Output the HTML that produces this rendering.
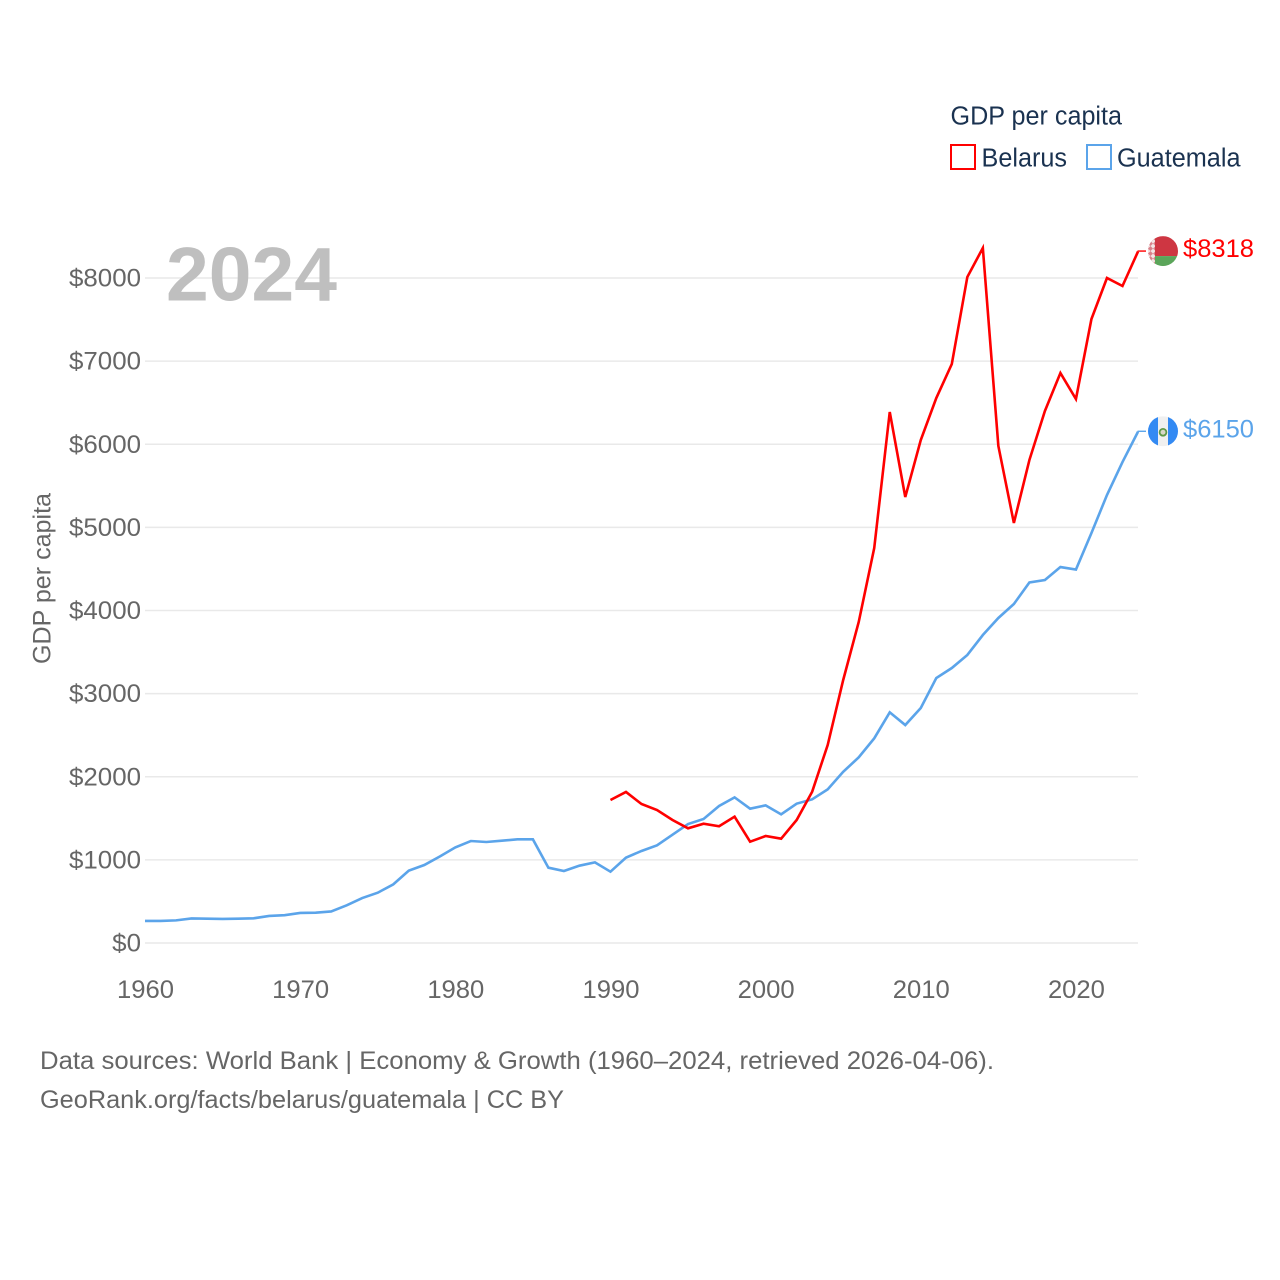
<!DOCTYPE html>
<html lang="en">
<head>
<meta charset="utf-8">
<title>GDP per capita: Belarus and Guatemala</title>
<style>
  html, body { margin: 0; padding: 0; background: #fff; }
  svg { display: block; }
  text { font-family: "Liberation Sans", sans-serif; }
</style>
</head>
<body>
<svg id="chart" xmlns="http://www.w3.org/2000/svg" width="1280" height="1280" viewBox="0 0 1280 1280">
  <rect width="1280" height="1280" fill="#fff"/>
  <g id="grid"></g>
  <g id="yticks"></g>
  <g id="xticks"></g>
  <text x="166" y="300.5" font-size="76" font-weight="700" fill="#bfbfbf" textLength="171" lengthAdjust="spacingAndGlyphs">2024</text>
  <text transform="translate(50.5,664) rotate(-90)" font-size="25" fill="#666" textLength="171" lengthAdjust="spacingAndGlyphs">GDP per capita</text>
  <g id="series"></g>

  <g>
    <text x="950.5" y="124.5" font-size="25.5" fill="#1a3250" textLength="171.5" lengthAdjust="spacingAndGlyphs">GDP per capita</text>
    <rect x="951" y="145" width="24" height="24" fill="#fff" stroke="#ff0000" stroke-width="2"/>
    <text x="981.5" y="166.5" font-size="25.5" fill="#1a3250" textLength="85.5" lengthAdjust="spacingAndGlyphs">Belarus</text>
    <rect x="1087" y="145" width="24" height="24" fill="#fff" stroke="#5ba4ea" stroke-width="2"/>
    <text x="1117" y="166.5" font-size="25.5" fill="#1a3250" textLength="123.5" lengthAdjust="spacingAndGlyphs">Guatemala</text>
  </g>

  <defs>
    <clipPath id="flag-clip"><circle cx="0" cy="0" r="15"/></clipPath>
    <pattern id="ornament" width="5" height="5" patternUnits="userSpaceOnUse">
      <rect width="5" height="5" fill="#f3e6e6"/>
      <path d="M0 2.5 L2.5 0 L5 2.5 L2.5 5 Z" fill="#d9808a"/>
    </pattern>
  </defs>

  <g id="flag-belarus" clip-path="url(#flag-clip)">
    <rect x="-15" y="-15" width="30" height="20" fill="#ce3642"/>
    <rect x="-15" y="5" width="30" height="10" fill="#5ba55a"/>
    <rect x="-15" y="-15" width="7" height="30" fill="url(#ornament)"/>
  </g>
  <g id="flag-guatemala" clip-path="url(#flag-clip)">
    <rect x="-15" y="-15" width="30" height="30" fill="#f0f0f0"/>
    <rect x="-15" y="-15" width="10" height="30" fill="#338af3"/>
    <rect x="5" y="-15" width="10" height="30" fill="#338af3"/>
    <circle cx="0" cy="1" r="3.4" fill="#d8d8c8" stroke="#5f9a48" stroke-width="1.8"/>
  </g>

  <g>
    <text x="40" y="1069" font-size="25" fill="#666" textLength="954" lengthAdjust="spacingAndGlyphs">Data sources: World Bank | Economy &amp; Growth (1960–2024, retrieved 2026-04-06).</text>
    <text x="40" y="1108" font-size="25" fill="#666" textLength="524" lengthAdjust="spacingAndGlyphs">GeoRank.org/facts/belarus/guatemala | CC BY</text>
  </g>
</svg>

<script>
const years = [1960,1961,1962,1963,1964,1965,1966,1967,1968,1969,1970,1971,1972,1973,1974,1975,1976,1977,1978,1979,1980,1981,1982,1983,1984,1985,1986,1987,1988,1989,1990,1991,1992,1993,1994,1995,1996,1997,1998,1999,2000,2001,2002,2003,2004,2005,2006,2007,2008,2009,2010,2011,2012,2013,2014,2015,2016,2017,2018,2019,2020,2021,2022,2023,2024];
const guatemalaValues = [265,266,272,295,293,290,292,297,325,335,362,365,380,453,541,605,705,870,938,1040,1150,1227,1215,1231,1247,1247,906,866,930,970,858,1027,1107,1175,1303,1431,1492,1648,1752,1616,1656,1548,1676,1728,1848,2060,2233,2462,2775,2622,2827,3188,3308,3465,3705,3910,4078,4337,4367,4523,4493,4932,5389,5786,6150];
const belarusValues = [null,null,null,null,null,null,null,null,null,null,null,null,null,null,null,null,null,null,null,null,null,null,null,null,null,null,null,null,null,null,1720,1817,1672,1600,1480,1380,1435,1404,1520,1219,1287,1255,1480,1820,2382,3164,3862,4752,6388,5365,6051,6556,6965,8012,8361,5979,5053,5810,6400,6857,6544,7507,8000,7904,8318];
const yTickValues = [0,1000,2000,3000,4000,5000,6000,7000,8000];
const yTickLabels = ["$0","$1000","$2000","$3000","$4000","$5000","$6000","$7000","$8000"];
const xTickValues = [1960,1970,1980,1990,2000,2010,2020];
const xTickLabels = ["1960","1970","1980","1990","2000","2010","2020"];

const SVG_NS = 'http://www.w3.org/2000/svg';
const plotLeft = 145, plotRight = 1138, plotBottom = 943, plotTop8000 = 278;
const xScale = function (year) {
  return plotLeft + (year - 1960) * (plotRight - plotLeft) / (2024 - 1960);
};
const yScale = function (value) {
  return plotBottom - value * (plotBottom - plotTop8000) / 8000;
};
const make = function (tag, attrs, parent, text) {
  const el = document.createElementNS(SVG_NS, tag);
  Object.keys(attrs).forEach(function (k) { el.setAttribute(k, attrs[k]); });
  if (text !== undefined) el.textContent = text;
  parent.appendChild(el);
  return el;
};

const grid = document.getElementById('grid');
const yticks = document.getElementById('yticks');
const xticks = document.getElementById('xticks');
const seriesGroup = document.getElementById('series');

yTickValues.forEach(function (v, i) {
  const y = yScale(v);
  const line = make('line', { x1: plotLeft, x2: plotRight, y1: y, y2: y, stroke: '#e9e9e9', 'stroke-width': 1.4 }, grid);
  
  
  const label = make('text', { x: 141, y: y + 8.5, 'text-anchor': 'end', 'font-size': 25, fill: '#666' }, yticks, yTickLabels[i]);
  
  
  label.setAttribute('textLength', 14.4 * yTickLabels[i].length);
  label.setAttribute('lengthAdjust', 'spacingAndGlyphs');
});

xTickValues.forEach(function (v, i) {
  const label = make('text', { x: xScale(v) + 0.5, y: 998, 'text-anchor': 'middle', 'font-size': 25, fill: '#666', textLength: 57, lengthAdjust: 'spacingAndGlyphs' }, xticks, xTickLabels[i]);
  
  
});

const drawSeries = function (values, color, lineName, connectorName, labelName, flagId) {
  const pts = [];
  values.forEach(function (v, i) {
    if (v !== null) pts.push(xScale(years[i]).toFixed(2) + ',' + yScale(v).toFixed(2));
  });
  const line = make('polyline', { points: pts.join(' '), fill: 'none', stroke: color, 'stroke-width': 2.6, 'stroke-linejoin': 'miter' }, seriesGroup);
  
  
  const last = values[values.length - 1];
  const endX = xScale(years[years.length - 1]);
  const endY = yScale(last);
  const connector = make('line', { x1: endX - 0.5, x2: endX + 8, y1: endY - 0.5, y2: endY - 0.5, stroke: color, 'stroke-width': 1.4 }, seriesGroup);
  
  
  const label = make('text', { x: 1183, y: endY + 5.5, 'font-size': 25, fill: color, textLength: 71, lengthAdjust: 'spacingAndGlyphs' }, seriesGroup, '$' + last);
  
  
  document.getElementById(flagId).setAttribute('transform', 'translate(1163,' + (endY - 0.5) + ')');
};

drawSeries(guatemalaValues, '#5ba4ea', 'line-guatemala', 'connector-guatemala', 'end-label-guatemala', 'flag-guatemala');
drawSeries(belarusValues, '#ff0000', 'line-belarus', 'connector-belarus', 'end-label-belarus', 'flag-belarus');
</script>
</body>
</html>
